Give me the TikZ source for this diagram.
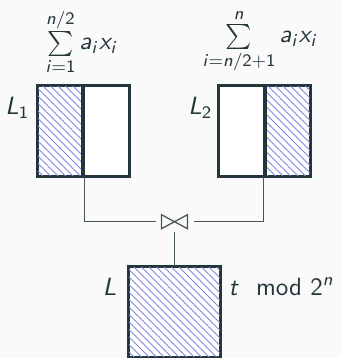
\documentclass[tikz,border=0pt]{standalone}
\usepackage{amsmath}
\usetikzlibrary{patterns}
\SetSymbolFont{operators}{normal}{OT1}{cmss}{m}{n}
\SetSymbolFont{letters}{normal}{OT1}{cmss}{m}{sl}
\DeclareMathSymbol{/}{\mathord}{operators}{`/}
\definecolor{dark}{HTML}{23373B}
\definecolor{bg}{HTML}{FAFAFA}
\definecolor{hatch}{RGB}{135,135,228}
\begin{document}
\begin{tikzpicture}[x=0.4pt,y=-0.4pt,
  halfbox/.style={draw=dark, line width=0.8pt, fill=white, inner sep=0pt,
    minimum width=18.2pt, minimum height=36pt},
  hatched/.style={postaction={pattern=north west lines, pattern color=hatch}},
  fullbox/.style={draw=dark, line width=0.8pt, fill=white, inner sep=0pt,
    minimum width=36.4pt, minimum height=36pt},
  conn/.style={draw=dark!85, line width=0.45pt},
  lbl/.style={inner sep=0pt, text=dark},
  joinnode/.style={inner sep=0pt, minimum width=14.8pt, minimum height=7.6pt}
]
\fill[bg] (0,0) rectangle (341,358);
\useasboundingbox (0,0) rectangle (341,358);

% top-left pair
\node[halfbox, hatched] (L1a) at (60.5,131) {};
\node[halfbox] (L1b) at (106,131) {};
% top-right pair
\node[halfbox] (L2a) at (242,131) {};
\node[halfbox, hatched] (L2b) at (287.5,131) {};
% bottom box
\node[fullbox, hatched] (L) at (174.5,312) {};
% redraw borders over pattern
\draw[dark, line width=0.8pt] (L1a.north west) rectangle (L1a.south east);
\draw[dark, line width=0.8pt] (L1b.north west) rectangle (L1b.south east);
\draw[dark, line width=0.8pt] (L2a.north west) rectangle (L2a.south east);
\draw[dark, line width=0.8pt] (L2b.north west) rectangle (L2b.south east);
\draw[dark, line width=0.8pt] (L.north west) rectangle (L.south east);

% join symbol
\node[joinnode] (join) at (174.5,221.7) {};
\draw[dark!85, line width=0.5pt, line join=miter]
  ([shift={(6,3)}]join.north west) -- ([shift={(6,-3)}]join.south west)
  -- ([shift={(-6,3)}]join.north east) -- ([shift={(-6,-3)}]join.south east) -- cycle;

% connectors
\draw[conn] (L1a.south east) |- (join.west);
\draw[conn] (L2b.south west) |- (join.east);
\draw[conn] (join.south) -- (L.north);

% labels
\node[lbl, anchor=base west] (s1) at (45,50) {$\sum\limits_{i=1}^{n/2} a_i x_i$};
\node[lbl, anchor=base west] (s2) at (202,43) {$\sum\limits_{i=n/2+1}^{n} a_i x_i$};
\node[lbl, anchor=base east] (l1) at (30,115) {$L_1$};
\node[lbl, anchor=base east] (l2) at (213,115) {$L_2$};
\node[lbl, anchor=base east] (lL) at (117,295) {$L$};
\node[lbl, anchor=base west] (tm) at (228,295) {$t \mod 2^n$};
\end{tikzpicture}
\end{document}
